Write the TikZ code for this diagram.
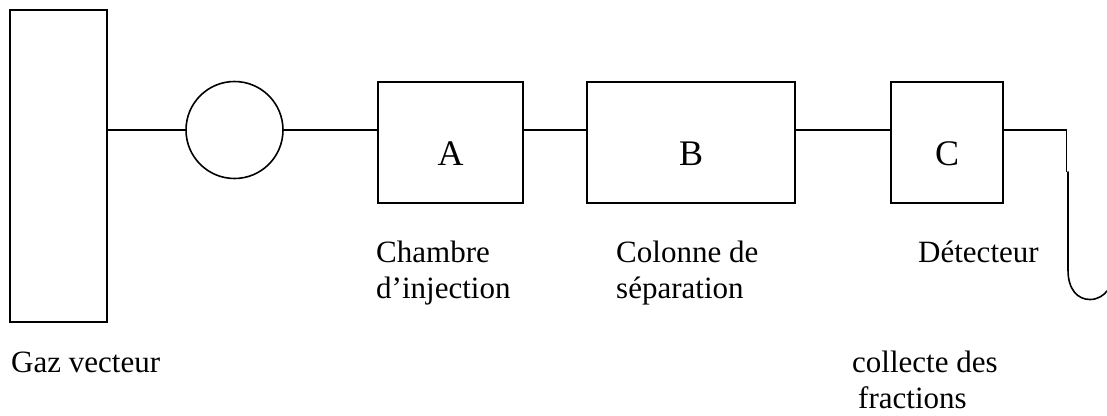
\documentclass[tikz,border=0pt]{standalone}
\usepackage{fontspec}
\setmainfont{Liberation Serif}
\begin{document}
\begin{tikzpicture}[x=1pt,y=-1pt,
  unit/.style={draw=black,line width=1.6pt,rectangle,inner sep=0pt,minimum height=121pt,font=\fontsize{36}{40}\selectfont},
  pipe/.style={draw=black,line width=1.6pt},
  lbl/.style={anchor=base west,inner sep=0pt,align=left,font=\fontsize{31}{36}\selectfont}]
\useasboundingbox (0,0) rectangle (1107,415);
\node[draw=black,line width=1.8pt,rectangle,inner sep=0pt,minimum width=97pt,minimum height=312pt] (tank) at (58.5,166) {};
\node[draw=black,line width=1.6pt,circle,inner sep=0pt,minimum size=97pt] (pump) at (234.5,130) {};
\node[unit,minimum width=145pt] (A) at (450.5,142.5) {\smash{\raisebox{-22.5pt}{A}}};
\node[unit,minimum width=208pt] (B) at (691,142.5) {\smash{\raisebox{-22.5pt}{B}}};
\node[unit,minimum width=112pt] (C) at (947,142.5) {\smash{\raisebox{-22.5pt}{C}}};
\coordinate (out) at (1066.5,130);
\coordinate (jog) at (1066.5,172);
\coordinate (tube) at (1068,172);
\coordinate (bend) at (1068,270);
\coordinate (bottom) at (1090,299.5);
\coordinate (tip) at (1107,291);
\draw[pipe] (tank.east |- pump.west) -- (pump.west);
\draw[pipe] (pump.east) -- (pump.east -| A.west);
\draw[pipe] (A.east |- pump.east) -- (B.west |- pump.east);
\draw[pipe] (B.east |- pump.east) -- (C.west |- pump.east);
\draw[pipe,line width=1.4pt] (C.east |- pump.east) -- (out) -- (jog);
\draw[pipe,line cap=round] (tube) -- (bend) .. controls (1068,290) and (1078,299.5) .. (bottom) .. controls (1098,299.5) and (1104,295) .. (tip);
\node[lbl] (lgaz) at (11,372) {Gaz vecteur};
\node[lbl] (lA) at (376,298) {Chambre\\d’injection};
\node[lbl] (lB) at (616,298) {Colonne de\\séparation};
\node[lbl] (lC) at (918,262) {Détecteur};
\node[lbl] (lcol) at (852,408) {collecte des\\\hspace*{6pt}fractions};
\end{tikzpicture}
\end{document}
